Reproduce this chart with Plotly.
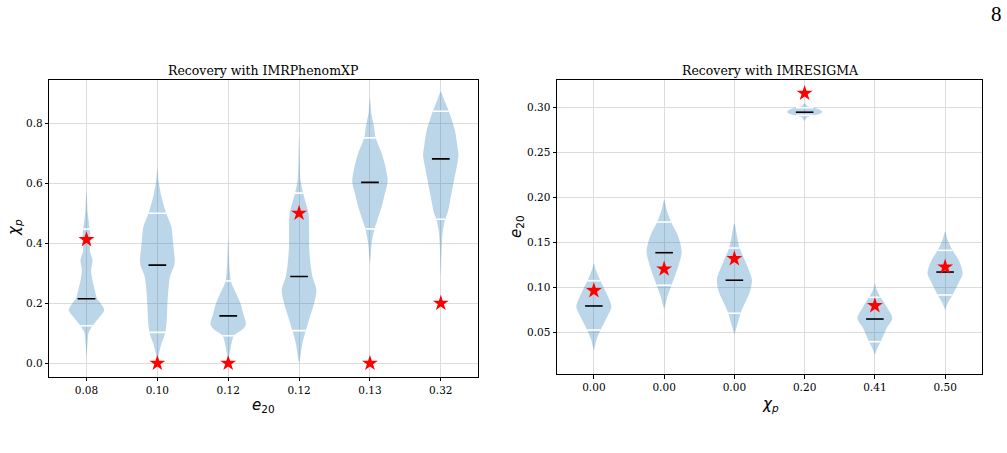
import numpy as np
import plotly.graph_objects as go

# ---------------- data ----------------
left_labels = ["0.08", "0.10", "0.12", "0.12", "0.13", "0.32"]
left_medians = [0.215, 0.327, 0.158, 0.289, 0.603, 0.681]
left_q_low = [0.125, 0.103, 0.092, 0.109, 0.448, 0.480]
left_q_high = [0.447, 0.500, 0.274, 0.567, 0.751, 0.840]
left_injected = [0.412, 0.0, 0.0, 0.5, 0.0, 0.2]

# violin outlines: levels (bottom tip -> top tip) and relative half widths
left_prof_y = [
    [0.02, 0.07, 0.10, 0.125, 0.155, 0.177, 0.20, 0.215, 0.243, 0.276, 0.31, 0.343, 0.376, 0.41, 0.445, 0.50, 0.57],
    [0.005, 0.032, 0.065, 0.103, 0.143, 0.188, 0.243, 0.29, 0.326, 0.343, 0.40, 0.455, 0.50, 0.555, 0.611, 0.65],
    [0.01, 0.04, 0.07, 0.092, 0.115, 0.13, 0.165, 0.198, 0.23, 0.27, 0.31, 0.376, 0.42],
    [0.0, 0.011, 0.067, 0.109, 0.156, 0.20, 0.244, 0.289, 0.333, 0.389, 0.444, 0.50, 0.567, 0.611, 0.667, 0.755],
    [0.33, 0.356, 0.40, 0.448, 0.478, 0.522, 0.567, 0.606, 0.656, 0.70, 0.752, 0.789, 0.833, 0.885],
    [0.29, 0.322, 0.367, 0.433, 0.48, 0.50, 0.556, 0.611, 0.656, 0.694, 0.722, 0.778, 0.84, 0.878, 0.905],
]
left_prof_w = [
    [0, 0.06, 0.11, 0.34, 0.75, 1.0, 0.8, 0.6, 0.47, 0.34, 0.26, 0.34, 0.19, 0.23, 0.19, 0.07, 0],
    [0, 0.09, 0.23, 0.45, 0.53, 0.56, 0.62, 0.72, 0.95, 0.98, 0.89, 0.79, 0.50, 0.23, 0.06, 0],
    [0, 0.1, 0.2, 0.32, 0.85, 1.0, 0.85, 0.7, 0.47, 0.17, 0.08, 0.03, 0],
    [0, 0.04, 0.19, 0.38, 0.62, 0.85, 0.98, 0.75, 0.64, 0.57, 0.57, 0.53, 0.23, 0.08, 0.04, 0],
    [0, 0.04, 0.1, 0.26, 0.42, 0.66, 0.85, 1.0, 0.87, 0.66, 0.32, 0.23, 0.08, 0],
    [0, 0.02, 0.04, 0.1, 0.25, 0.38, 0.57, 0.75, 0.9, 1.0, 0.94, 0.79, 0.45, 0.19, 0],
]

right_labels = ["0.00", "0.00", "0.00", "0.20", "0.41", "0.50"]
right_medians = [0.0797, 0.1389, 0.1083, 0.2950, 0.0652, 0.1174]
right_q_low = [0.053, 0.1027, 0.0716, 0.2915, 0.040, 0.0919]
right_q_high = [0.1078, 0.173, 0.1441, 0.300, 0.0893, 0.1415]
right_injected = [0.0967, 0.1208, 0.1322, 0.316, 0.080, 0.123]

right_prof_y = [
    [0.03, 0.042, 0.053, 0.0678, 0.0789, 0.0938, 0.1078, 0.1197, 0.127],
    [0.076, 0.09, 0.1027, 0.1233, 0.140, 0.157, 0.173, 0.186, 0.1975],
    [0.048, 0.0605, 0.0716, 0.083, 0.094, 0.1086, 0.127, 0.1441, 0.157, 0.1715],
    [0.2852, 0.2895, 0.2915, 0.2935, 0.2955, 0.2975, 0.300, 0.302, 0.3049],
    [0.0256, 0.0308, 0.040, 0.055, 0.066, 0.0789, 0.0893, 0.098, 0.1049],
    [0.0753, 0.083, 0.0919, 0.105, 0.116, 0.131, 0.1415, 0.153, 0.1622],
]
right_prof_w = [
    [0, 0.15, 0.38, 0.76, 1.0, 0.72, 0.37, 0.11, 0],
    [0, 0.19, 0.42, 0.8, 1.0, 0.8, 0.4, 0.15, 0],
    [0, 0.19, 0.35, 0.6, 0.86, 1.0, 0.67, 0.3, 0.15, 0],
    [0, 0.15, 0.55, 0.9, 1.0, 0.9, 0.55, 0.15, 0],
    [0, 0.1, 0.33, 0.67, 1.0, 0.67, 0.33, 0.1, 0],
    [0, 0.15, 0.42, 0.76, 1.0, 0.76, 0.42, 0.15, 0],
]

# ---------------- styling ----------------
HALF_W = 0.25      # matplotlib violin default width 0.5
LINE_HALF = 0.125  # median / quantile line half length
FILL = "rgba(31,119,180,0.30)"
SERIF = "DejaVu Serif"
SANS = "DejaVu Sans"

fig = go.Figure()


def add_panel(xa, ya, prof_y, prof_w, medians, qlo, qhi, inj):
    for i, (py, pw) in enumerate(zip(prof_y, prof_w)):
        py = np.asarray(py, float)
        pw = np.asarray(pw, float) * HALF_W
        xs = np.concatenate([i + pw, (i - pw)[-2:0:-1]])
        ys = np.concatenate([py, py[-2:0:-1]])
        fig.add_trace(go.Scatter(
            x=xs, y=ys, mode="lines", fill="toself", fillcolor=FILL,
            line=dict(width=0, shape="spline", smoothing=0.8),
            hoverinfo="skip", showlegend=False, xaxis=xa, yaxis=ya))
    # quantile lines (white), clipped to the violin width
    qx, qy = [], []
    for i, (py, pw) in enumerate(zip(prof_y, prof_w)):
        for q in (qlo[i], qhi[i]):
            h = min(LINE_HALF, float(np.interp(q, py, pw)) * HALF_W)
            qx += [i - h, i + h, None]
            qy += [q, q, None]
    fig.add_trace(go.Scatter(x=qx, y=qy, mode="lines",
                             line=dict(color="white", width=1.6),
                             hoverinfo="skip", showlegend=False, xaxis=xa, yaxis=ya))
    mx, my = [], []
    for i, m in enumerate(medians):
        mx += [i - LINE_HALF, i + LINE_HALF, None]
        my += [m, m, None]
    fig.add_trace(go.Scatter(x=mx, y=my, mode="lines",
                             line=dict(color="black", width=1.6),
                             hoverinfo="skip", showlegend=False, xaxis=xa, yaxis=ya))
    fig.add_trace(go.Scatter(x=list(range(len(inj))), y=inj, mode="markers",
                             marker=dict(symbol="star", size=12, color="red",
                                         line=dict(width=0)),
                             hoverinfo="skip", showlegend=False, xaxis=xa, yaxis=ya))


add_panel("x", "y", left_prof_y, left_prof_w, left_medians, left_q_low, left_q_high, left_injected)
add_panel("x2", "y2", right_prof_y, right_prof_w, right_medians, right_q_low, right_q_high, right_injected)

W, H = 1007, 453
common = dict(showline=True, mirror=True, linecolor="black", linewidth=1,
              ticks="outside", ticklen=3.5, tickwidth=0.8, tickcolor="black",
              showgrid=True, gridcolor="#dcdcdc", gridwidth=1, zeroline=False,
              tickfont=dict(family=SERIF, size=10.5, color="black"))

fig.update_layout(
    width=W, height=H, autosize=False,
    margin=dict(l=0, r=0, t=0, b=0),
    paper_bgcolor="white", plot_bgcolor="white",
    xaxis=dict(domain=[49.3 / W, 478 / W], range=[-0.525, 5.525],
               tickvals=list(range(6)), ticktext=left_labels, anchor="y", **common),
    yaxis=dict(domain=[1 - 376.7 / H, 1 - 80 / H], range=[-0.0447, 0.944],
               tickvals=[0.0, 0.2, 0.4, 0.6, 0.8], tickformat=".1f", anchor="x", **common),
    xaxis2=dict(domain=[557 / W, 982 / W], range=[-0.525, 5.525],
                tickvals=list(range(6)), ticktext=right_labels, anchor="y2", **common),
    yaxis2=dict(domain=[1 - 374 / H, 1 - 80 / H], range=[0.0041, 0.3308],
                tickvals=[0.05, 0.10, 0.15, 0.20, 0.25, 0.30], tickformat=".2f",
                anchor="x2", **common),
)

ann = [
    dict(text="Recovery with IMRPhenomXP", x=263 / W, y=1 - 70 / H,
         font=dict(family=SERIF, size=12.5, color="black")),
    dict(text="Recovery with IMRESIGMA", x=770 / W, y=1 - 70 / H,
         font=dict(family=SERIF, size=12.5, color="black")),
    dict(text="<i>e</i><sub>20</sub>", x=263 / W, y=1 - 405 / H,
         font=dict(family=SANS, size=15, color="black")),
    dict(text="<i>χ</i><sub><i>p</i></sub>", x=770 / W, y=1 - 404 / H,
         font=dict(family=SANS, size=15, color="black")),
    dict(text="<i>χ</i><sub><i>p</i></sub>", x=14 / W, y=1 - 228 / H, textangle=-90,
         font=dict(family=SANS, size=15, color="black")),
    dict(text="<i>e</i><sub>20</sub>", x=516 / W, y=1 - 227 / H, textangle=-90,
         font=dict(family=SANS, size=15, color="black")),
    dict(text="8", x=996 / W, y=1 - 14 / H,
         font=dict(family="Liberation Serif", size=21, color="black")),
]
for a in ann:
    fig.add_annotation(xref="paper", yref="paper", showarrow=False,
                       xanchor="center", yanchor="middle", **a)

fig.write_html("out.html")
